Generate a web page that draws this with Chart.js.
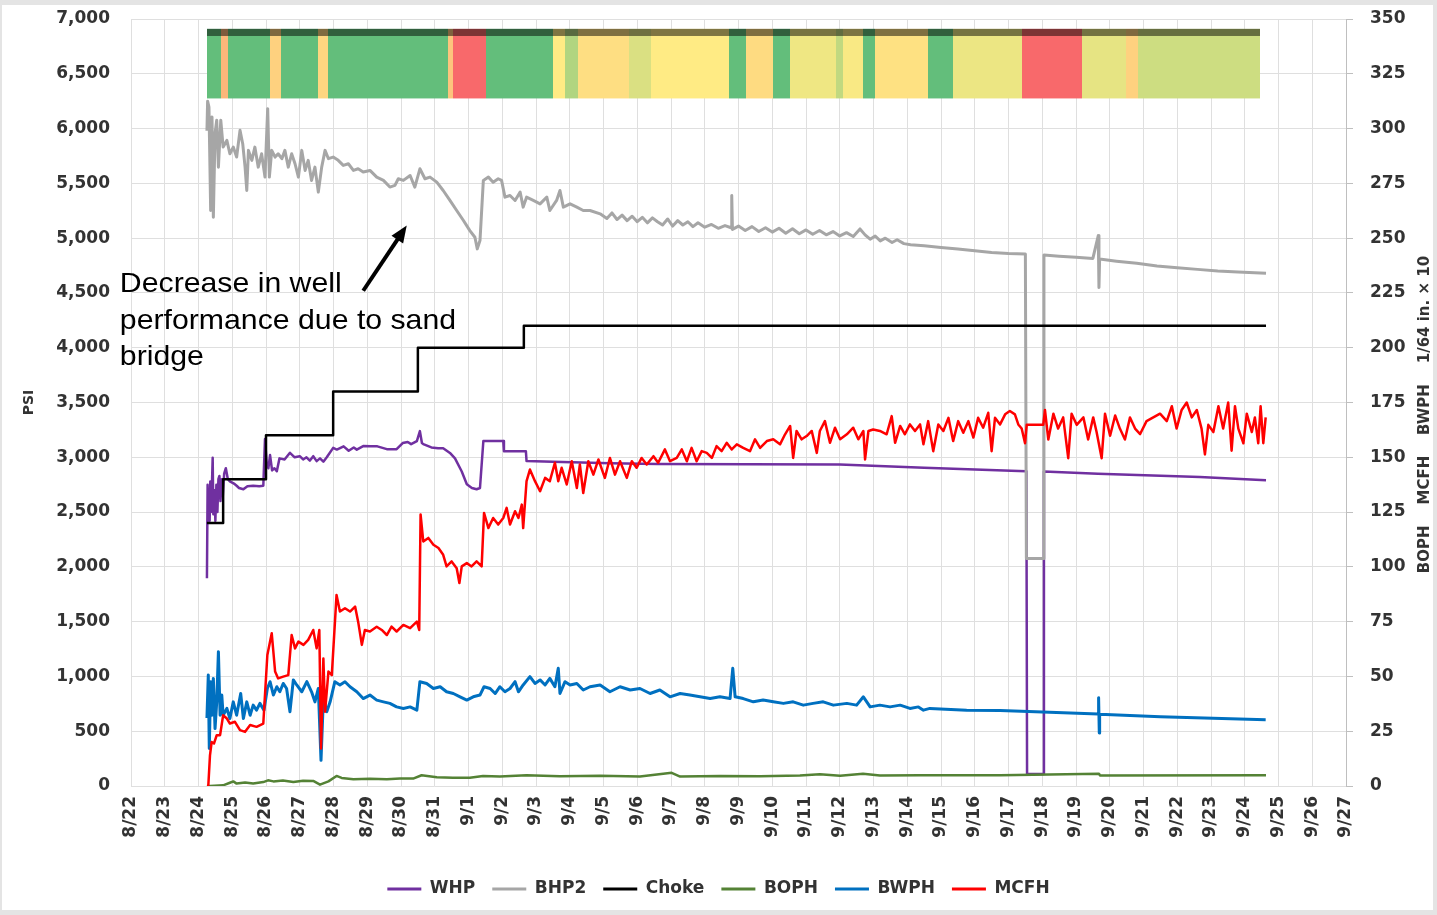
<!DOCTYPE html>
<html>
<head>
<meta charset="utf-8">
<script src="https://cdn.jsdelivr.net/npm/chart.js@4.4.1/dist/chart.umd.min.js"></script>
<style>
  html, body { margin: 0; padding: 0; background: #fff; }
  #wrap { width: 1437px; height: 915px; }
</style>
</head>
<body>
<div id="wrap"><canvas id="wellChart" width="1437" height="915"></canvas></div>
<script>
/* Well test: pressures (PSI, left axis) + rates / choke (right axis) with a status band on top. */

// x = days since 8/22 00:00
const dayLabels = ['8/22','8/23','8/24','8/25','8/26','8/27','8/28','8/29','8/30','8/31',
  '9/1','9/2','9/3','9/4','9/5','9/6','9/7','9/8','9/9','9/10','9/11','9/12','9/13','9/14',
  '9/15','9/16','9/17','9/18','9/19','9/20','9/21','9/22','9/23','9/24','9/25','9/26','9/27'];

// [day, PSI]
const whp = [[2.25,1897],[2.27,2750],[2.29,2450],[2.31,2700],[2.33,2420],[2.35,2780],[2.37,2500],[2.39,2650],
  [2.42,2995],[2.44,2480],[2.47,2700],[2.50,2420],[2.53,2750],[2.56,2500],[2.59,2800],[2.62,2830],[2.65,2600],
  [2.69,2800],[2.72,2650],[2.76,2850],[2.81,2900],[2.87,2800],[2.93,2780],[3.05,2760],[3.13,2740],[3.20,2720],
  [3.33,2708],[3.45,2736],[3.62,2740],[3.80,2736],[3.92,2740],[3.97,3166],[4.02,2950],[4.07,2900],[4.12,3020],
  [4.18,2880],[4.25,2900],[4.32,2873],[4.40,2990],[4.55,2980],[4.71,3041],[4.85,3000],[5.00,3010],[5.10,2980],
  [5.20,3000],[5.30,2970],[5.40,3010],[5.50,2965],[5.60,2990],[5.70,2960],[5.80,3000],[5.99,3086],[6.10,3070],
  [6.30,3100],[6.45,3060],[6.60,3090],[6.69,3070],[6.88,3102],[7.10,3100],[7.30,3100],[7.58,3074],[7.87,3074],
  [8.05,3130],[8.20,3140],[8.30,3120],[8.47,3148],[8.56,3239],[8.62,3130],[8.66,3120],[8.90,3090],[9.10,3083],
  [9.25,3083],[9.45,3040],[9.60,2990],[9.80,2870],[9.95,2754],[10.10,2720],[10.24,2708],[10.34,2720],[10.44,3148],
  [10.70,3148],[11.03,3148],[11.05,3056],[11.40,3056],[11.70,3056],[11.72,2965],[12.50,2960],[14.20,2945],
  [15.60,2938],[21.00,2935],[23.50,2905],[26.30,2875],[26.53,2872],[26.55,110],[27.03,110],[27.05,2870],
  [28.65,2850],[31.67,2820],[33.63,2790]];

const bhp2 = [[2.25,5980],[2.27,6250],[2.31,6197],[2.36,5252],[2.40,6106],[2.44,5191],[2.49,5956],[2.54,6076],
  [2.59,5648],[2.66,6076],[2.73,5831],[2.84,5892],[2.93,5770],[3.03,5831],[3.13,5740],[3.23,5984],[3.31,5862],
  [3.38,5648],[3.43,5435],[3.48,5801],[3.58,5710],[3.67,5831],[3.77,5648],[3.87,5770],[3.97,5557],[4.05,6182],
  [4.10,5557],[4.17,5801],[4.27,5740],[4.36,5770],[4.47,5725],[4.56,5801],[4.66,5648],[4.76,5770],[4.86,5679],
  [4.96,5557],[5.06,5801],[5.16,5618],[5.25,5710],[5.35,5527],[5.45,5648],[5.55,5420],[5.65,5648],[5.75,5801],
  [5.85,5725],[5.99,5740],[6.14,5710],[6.29,5664],[6.44,5679],[6.59,5618],[6.73,5633],[6.88,5603],[7.08,5618],
  [7.28,5557],[7.48,5527],[7.67,5466],[7.82,5481],[7.92,5542],[8.07,5527],[8.27,5572],[8.41,5466],[8.56,5633],
  [8.71,5542],[8.86,5557],[9.06,5511],[9.25,5435],[9.45,5344],[9.65,5252],[9.85,5161],[10.04,5069],[10.19,5008],
  [10.26,4902],[10.34,4978],[10.44,5527],[10.59,5557],[10.73,5511],[10.88,5542],[10.98,5527],[11.08,5374],
  [11.23,5389],[11.38,5344],[11.53,5420],[11.62,5283],[11.72,5374],[11.92,5344],[12.12,5313],[12.32,5374],
  [12.41,5252],[12.61,5344],[12.71,5435],[12.81,5283],[13.01,5313],[13.21,5283],[13.40,5252],[13.60,5252],
  [13.90,5222],[14.10,5180],[14.25,5230],[14.40,5170],[14.55,5210],[14.70,5160],[14.85,5200],[15.00,5150],
  [15.15,5190],[15.30,5140],[15.45,5185],[15.60,5150],[15.75,5120],[15.90,5175],[16.05,5110],[16.20,5160],
  [16.35,5120],[16.50,5150],[16.65,5105],[16.80,5140],[17.00,5100],[17.20,5125],[17.40,5090],[17.60,5115],
  [17.78,5095],[17.80,5389],[17.82,5080],[18.00,5110],[18.20,5070],[18.40,5105],[18.60,5060],[18.80,5095],
  [19.00,5055],[19.20,5090],[19.40,5045],[19.60,5085],[19.80,5040],[20.00,5075],[20.20,5035],[20.40,5070],
  [20.60,5030],[20.80,5060],[21.00,5020],[21.20,5050],[21.40,5015],[21.60,5084],[21.75,5030],[21.90,4990],
  [22.05,5020],[22.20,4975],[22.35,5000],[22.55,4960],[22.70,4985],[22.90,4950],[23.10,4940],[23.50,4930],
  [24.00,4915],[24.50,4900],[25.00,4885],[25.50,4870],[26.00,4860],[26.50,4856],[26.53,2077],[27.03,2077],
  [27.05,4847],[27.50,4835],[28.00,4825],[28.50,4815],[28.66,5023],[28.68,4550],[28.70,4810],[29.20,4790],
  [29.80,4770],[30.40,4745],[31.00,4730],[31.60,4715],[32.20,4700],[32.80,4690],[33.63,4679]];

// [day, right-axis value]
const choke = [[2.25,120],[2.73,140],[4.00,160],[5.99,180],[8.50,200],[11.64,210],[33.63,210]];

const boph = [[2.25,0],[2.34,0],[2.73,0.3],[2.93,1.5],[3.03,2.1],[3.13,1.1],[3.38,1.6],[3.62,1.1],[3.92,1.8],
  [4.06,2.6],[4.22,2.1],[4.50,2.5],[4.81,1.8],[5.10,2.4],[5.40,2.3],[5.60,0.6],[5.85,2.1],[6.09,4.6],[6.24,3.7],
  [6.59,3.1],[7.08,3.3],[7.58,3.1],[7.97,3.4],[8.36,3.4],[8.61,4.9],[9.06,4.0],[9.54,3.8],[10.04,3.8],[10.43,4.6],
  [10.93,4.3],[11.72,4.9],[12.71,4.4],[13.90,4.7],[15.08,4.3],[16.02,6.0],[16.27,4.3],[17.45,4.6],[18.64,4.4],
  [19.82,4.8],[20.41,5.4],[21.01,4.7],[21.69,5.6],[22.19,4.8],[23.38,4.9],[25.75,4.9],[28.68,5.6],[28.71,4.8],
  [33.63,4.9]];

const bwph = [[2.25,31],[2.29,50.6],[2.32,17.1],[2.36,47.6],[2.40,32.3],[2.44,49.1],[2.49,26.2],[2.54,38.4],
  [2.59,61.3],[2.64,32.3],[2.69,41.5],[2.73,32.3],[2.84,35.4],[2.93,30.8],[3.03,38.4],[3.13,32.3],[3.25,42.2],
  [3.33,30.8],[3.43,38.4],[3.53,32.3],[3.62,36.9],[3.72,34.6],[3.82,37.7],[3.94,34.6],[4.04,44.5],[4.12,47.6],
  [4.22,41.5],[4.32,45.3],[4.41,43.0],[4.51,46.8],[4.61,44.5],[4.71,33.9],[4.81,48.4],[4.91,46.1],[5.06,43.0],
  [5.21,47.6],[5.35,43.0],[5.45,38.4],[5.55,44.5],[5.63,11.7],[5.70,39.9],[5.80,33.9],[5.90,38.4],[6.04,47.6],
  [6.19,46.1],[6.34,47.6],[6.49,45.3],[6.69,43.0],[6.88,39.9],[7.08,41.5],[7.28,39.2],[7.48,38.4],[7.67,37.7],
  [7.87,36.1],[8.07,35.4],[8.27,36.1],[8.47,34.6],[8.56,47.6],[8.76,46.8],[8.96,44.5],[9.16,45.3],[9.35,43.0],
  [9.55,42.2],[9.75,40.7],[9.95,39.2],[10.14,40.7],[10.34,41.5],[10.46,45.3],[10.64,44.5],[10.79,42.2],
  [10.93,45.3],[11.08,43.0],[11.23,44.5],[11.38,47.6],[11.48,43.0],[11.62,46.1],[11.82,49.9],[11.97,46.8],
  [12.12,48.4],[12.27,46.1],[12.41,49.1],[12.56,45.3],[12.66,53.7],[12.71,42.2],[12.86,47.6],[13.01,46.1],
  [13.21,46.8],[13.40,43.8],[13.60,45.3],[13.90,46.1],[14.19,43.0],[14.49,45.3],[14.79,43.8],[15.08,44.5],
  [15.38,42.2],[15.67,43.8],[15.97,40.7],[16.27,42.2],[16.56,41.5],[16.86,40.7],[17.16,39.9],[17.45,40.7],
  [17.75,39.9],[17.83,53.7],[17.90,40.7],[18.14,39.9],[18.44,38.4],[18.73,39.2],[19.03,38.4],[19.33,37.7],
  [19.62,38.4],[19.92,36.9],[20.21,37.7],[20.51,38.4],[20.81,36.9],[21.21,37.7],[21.50,36.9],[21.70,40.7],
  [21.90,36.1],[22.19,36.9],[22.49,36.1],[22.79,36.9],[23.08,35.4],[23.33,36.1],[23.48,34.6],[23.67,35.4],
  [24.76,34.6],[25.75,34.4],[26.80,33.9],[28.66,32.8],[28.67,40.3],[28.69,24.2],[28.70,32.7],[30.50,31.6],
  [33.62,30.2]];

const mcfh = [[2.25,0],[2.29,0],[2.34,14.0],[2.39,20.1],[2.46,19.4],[2.54,23.2],[2.64,23.2],[2.73,32.3],
  [2.84,30.8],[2.93,28.5],[3.08,29.3],[3.23,25.5],[3.38,24.7],[3.53,27.8],[3.72,27.0],[3.92,28.5],[4.04,59.8],
  [4.17,69.7],[4.27,52.2],[4.36,49.1],[4.51,49.9],[4.66,50.6],[4.76,68.9],[4.86,62.8],[4.96,65.9],[5.11,64.4],
  [5.25,66.7],[5.40,71.2],[5.50,62.8],[5.58,71.2],[5.63,17.1],[5.70,58.2],[5.75,33.9],[5.85,52.2],[5.95,50.6],
  [6.09,87.2],[6.19,79.6],[6.34,81.1],[6.49,79.6],[6.64,81.9],[6.73,75.0],[6.84,64.4],[6.93,71.2],[7.08,70.5],
  [7.28,72.7],[7.43,71.2],[7.58,68.9],[7.72,72.7],[7.87,70.5],[8.07,73.5],[8.27,72.0],[8.47,75.0],[8.54,71.2],
  [8.58,123.9],[8.66,111.6],[8.81,113.2],[8.96,110.1],[9.11,108.6],[9.25,105.5],[9.35,100.2],[9.50,102.5],
  [9.65,99.4],[9.73,92.6],[9.80,100.2],[9.95,101.7],[10.09,100.2],[10.24,102.5],[10.39,100.2],[10.46,124.6],
  [10.59,117.7],[10.73,122.3],[10.88,119.3],[11.03,122.3],[11.13,126.9],[11.23,119.3],[11.38,125.4],
  [11.48,122.3],[11.58,128.4],[11.62,117.7],[11.72,139.1],[11.82,144.4],[11.97,139.1],[12.12,134.5],
  [12.27,140.6],[12.41,139.1],[12.56,147.5],[12.66,139.1],[12.76,145.2],[12.91,137.6],[13.06,148.2],
  [13.21,136.0],[13.30,146.7],[13.40,133.7],[13.55,148.2],[13.70,142.1],[13.85,149.0],[14.04,140.6],
  [14.19,149.7],[14.34,142.1],[14.49,148.2],[14.69,140.6],[14.84,148.2],[14.98,145.2],[15.13,149.7],
  [15.28,146.7],[15.48,150.5],[15.62,147.5],[15.82,153.6],[15.97,148.2],[16.17,149.7],[16.32,153.6],
  [16.47,148.2],[16.61,154.3],[16.76,148.2],[16.91,152.8],[17.06,152.0],[17.21,149.7],[17.35,155.1],
  [17.50,152.8],[17.65,156.6],[17.80,153.6],[17.95,155.9],[18.14,154.3],[18.34,152.8],[18.49,158.2],
  [18.64,154.3],[18.84,157.4],[19.03,158.2],[19.23,155.9],[19.38,160.5],[19.53,164.3],[19.62,149.7],
  [19.72,162.0],[19.87,158.2],[20.02,159.7],[20.17,162.0],[20.32,152.0],[20.41,162.0],[20.56,166.5],
  [20.71,156.6],[20.86,163.5],[21.01,158.2],[21.21,160.5],[21.40,163.5],[21.55,158.2],[21.70,162.0],
  [21.75,149.0],[21.85,162.0],[21.99,162.7],[22.19,162.0],[22.39,160.5],[22.54,168.8],[22.64,156.6],
  [22.79,164.3],[22.93,160.5],[23.08,165.0],[23.23,162.0],[23.38,165.0],[23.48,155.9],[23.62,166.5],
  [23.77,152.8],[23.92,165.0],[24.07,162.0],[24.22,168.0],[24.36,157.4],[24.51,166.5],[24.66,161.2],
  [24.81,166.5],[24.96,159.0],[25.10,168.0],[25.25,163.5],[25.40,170.3],[25.50,152.8],[25.60,168.0],
  [25.75,165.0],[25.90,169.6],[26.04,171.1],[26.19,169.6],[26.29,165.0],[26.39,163.1],[26.49,156.4],
  [26.54,164.8],[27.03,164.8],[27.08,171.6],[27.18,158.1],[27.33,169.9],[27.47,163.1],[27.62,168.2],
  [27.77,149.6],[27.87,169.9],[28.02,164.8],[28.22,168.2],[28.36,158.1],[28.51,168.2],[28.61,161.5],
  [28.76,149.6],[28.86,169.9],[29.01,159.8],[29.16,169.1],[29.30,163.1],[29.45,158.1],[29.60,168.2],
  [29.75,163.1],[29.90,160.6],[30.09,166.5],[30.29,168.2],[30.49,169.9],[30.69,166.5],[30.84,173.3],
  [30.98,163.1],[31.13,171.6],[31.28,175.0],[31.43,168.2],[31.58,171.6],[31.72,163.1],[31.82,151.3],
  [31.92,164.8],[32.07,161.5],[32.22,173.3],[32.36,163.1],[32.51,175.0],[32.61,153.0],[32.71,173.3],
  [32.81,163.1],[32.96,156.4],[33.06,169.9],[33.21,161.5],[33.30,168.2],[33.40,156.4],[33.47,173.3],
  [33.55,156.4],[33.62,168.2]];

// status band: segment edges (days) and score per segment (0 = red, 50 = yellow, 100 = green)
const bandEdges = [2.25,2.67,2.86,4.12,4.44,5.53,5.85,9.39,9.54,10.52,12.49,12.86,13.23,14.76,15.41,17.72,
  18.22,19.02,19.53,20.89,21.11,21.69,22.03,23.60,24.37,26.40,28.18,29.47,29.84,33.44];
const bandScore = [100,30,100,40,100,42,100,35,0,100,50,75,45,62,50,100,44,100,55,70,52,100,46,100,56,0,58,40,66];

const noteLines = ['Decrease in well', 'performance due to sand', 'bridge'];
const rightTitle = 'BOPH    MCFH    BWPH    1/64 in. \u00d7 10';

// band placement on the PSI scale, note anchors [day, PSI]
const BAND_TOP = 6910, BAND_CAP = 6845, BAND_BOTTOM = 6275;
const NOTE_AT = [-0.33, 4575];
const ARROW_FROM = [6.88, 4520], ARROW_TO = [8.17, 5115];

const TICK_FONT = { family: 'DejaVu Sans', size: 17, weight: 'bold' };
const TXT = '#333333', GRID = '#dfdfdf';

function scoreColor(s) {
  const red = [248,105,107], yel = [255,235,132], grn = [99,190,123];
  const [a, b, t] = s <= 50 ? [red, yel, s / 50] : [yel, grn, (s - 50) / 50];
  return 'rgb(' + a.map((c, i) => Math.round(c + (b[i] - c) * t)).join(',') + ')';
}

const framePlugin = {
  id: 'frame',
  beforeDraw(chart) {
    const { ctx, width, height } = chart;
    ctx.save();
    ctx.fillStyle = '#e4e4e4';
    ctx.fillRect(0, 0, width, height);
    ctx.fillStyle = '#ffffff';
    ctx.fillRect(2, 5, width - 6, height - 10);
    ctx.restore();
  }
};

const bandPlugin = {
  id: 'statusBand',
  beforeDatasetsDraw(chart) {
    const { ctx, scales: { x, y } } = chart;
    const top = y.getPixelForValue(BAND_TOP), bot = y.getPixelForValue(BAND_BOTTOM), cap = y.getPixelForValue(BAND_CAP);
    ctx.save();
    bandScore.forEach((s, i) => {
      const x0 = Math.round(x.getPixelForValue(bandEdges[i]));
      const x1 = Math.round(x.getPixelForValue(bandEdges[i + 1]));
      ctx.fillStyle = scoreColor(s);
      ctx.fillRect(x0, top, x1 - x0, bot - top);
    });
    const xa = Math.round(x.getPixelForValue(bandEdges[0]));
    const xb = Math.round(x.getPixelForValue(bandEdges[bandEdges.length - 1]));
    ctx.fillStyle = 'rgba(0,0,0,0.5)';
    ctx.fillRect(xa, top, xb - xa, cap - top);
    ctx.restore();
  }
};

const notesPlugin = {
  id: 'notes',
  afterDraw(chart) {
    const { ctx, chartArea, scales: { x, y, y1 } } = chart;
    ctx.save();
    ctx.fillStyle = '#000';
    ctx.textBaseline = 'middle';
    ctx.font = '28px "Liberation Sans", Arial, sans-serif';
    const tx = x.getPixelForValue(NOTE_AT[0]);
    noteLines.forEach((line, i) => {
      ctx.save();
      ctx.translate(tx, y.getPixelForValue(NOTE_AT[1]) + i * 36.5);
      ctx.scale(1.08, 1);
      ctx.fillText(line, 0, 0);
      ctx.restore();
    });

    // arrow
    const ax = x.getPixelForValue(ARROW_FROM[0]), ay = y.getPixelForValue(ARROW_FROM[1]);
    const bx = x.getPixelForValue(ARROW_TO[0]), by = y.getPixelForValue(ARROW_TO[1]);
    const ang = Math.atan2(by - ay, bx - ax), c = Math.cos(ang), s = Math.sin(ang);
    ctx.strokeStyle = '#000';
    ctx.lineWidth = 4;
    ctx.beginPath();
    ctx.moveTo(ax, ay);
    ctx.lineTo(bx - 12 * c, by - 12 * s);
    ctx.stroke();
    ctx.beginPath();
    ctx.moveTo(bx, by);
    ctx.lineTo(bx - 17 * c + 7 * s, by - 17 * s - 7 * c);
    ctx.lineTo(bx - 17 * c - 7 * s, by - 17 * s + 7 * c);
    ctx.closePath();
    ctx.fill();

    // right axis title reads bottom-to-top
    ctx.fillStyle = TXT;
    ctx.font = 'bold 15px "DejaVu Sans"';
    ctx.textAlign = 'center';
    ctx.translate(y1.right - 12, (chartArea.top + chartArea.bottom) / 2 + 12);
    ctx.rotate(-Math.PI / 2);
    ctx.fillText(rightTitle, 0, 0);
    ctx.restore();
  }
};

const line = (label, rows, color, width, axis, order, extra) => Object.assign({
  label, order, yAxisID: axis,
  data: rows.map(([d, v]) => ({ x: d, y: v })),
  borderColor: color, backgroundColor: color, borderWidth: width,
  pointRadius: 0, tension: 0, fill: false, borderJoinStyle: 'round'
}, extra || {});

// fixed axis sizes so the plot area sits where the reference has it
const fixWidth = w => s => { s.width = w; s.paddingTop = 0; s.paddingBottom = 0; };

new Chart(document.getElementById('wellChart'), {
  type: 'line',
  data: { datasets: [
    line('WHP',   whp,   '#7030a0', 2.5, 'y',  6),
    line('BHP2',  bhp2,  '#a6a6a6', 3,   'y',  5),
    line('Choke', choke, '#000000', 2.5, 'y1', 4, { stepped: true }),
    line('BOPH',  boph,  '#548235', 2.5, 'y1', 3),
    line('BWPH',  bwph,  '#0070c0', 3,   'y1', 2),
    line('MCFH',  mcfh,  '#ff0000', 2.5, 'y1', 1)
  ] },
  options: {
    responsive: false,
    animation: false,
    layout: { padding: { top: 19, right: 0, bottom: 7.5, left: 0 } },
    plugins: {
      tooltip: { enabled: false },
      legend: {
        position: 'bottom',
        labels: {
          font: TICK_FONT, color: TXT, boxWidth: 34, boxHeight: 3, padding: 17,
          sort: (a, b) => a.datasetIndex - b.datasetIndex,
          generateLabels: chart => Chart.defaults.plugins.legend.labels.generateLabels(chart)
            .map(it => Object.assign(it, { lineWidth: 0, fillStyle: it.strokeStyle }))
        }
      }
    },
    scales: {
      x: {
        type: 'linear', min: 0, max: 36,
        afterFit: s => { s.height = 77.5; },
        grid: { color: GRID, drawTicks: false },
        border: { display: false },
        ticks: { stepSize: 1, autoSkip: false, minRotation: 90, maxRotation: 90, padding: 10,
          font: TICK_FONT, color: TXT, callback: v => dayLabels[v] }
      },
      y: {
        position: 'left', min: 0, max: 7000,
        afterFit: fixWidth(131),
        grid: { color: GRID, drawTicks: false },
        border: { display: false },
        ticks: { stepSize: 500, padding: 21, font: TICK_FONT, color: TXT,
          callback: v => v.toLocaleString('en-US') },
        title: { display: true, text: 'PSI', color: TXT, padding: { top: 21, bottom: 0 },
          font: { family: 'DejaVu Sans', size: 14, weight: 'bold' } }
      },
      y1: {
        position: 'right', min: 0, max: 350,
        afterFit: fixWidth(91),
        grid: { drawOnChartArea: false, drawTicks: true, tickLength: 7, color: '#bfbfbf' },
        border: { display: true, color: '#bfbfbf' },
        ticks: { stepSize: 25, padding: 17, font: TICK_FONT, color: TXT }
      }
    }
  },
  plugins: [framePlugin, bandPlugin, notesPlugin]
});
</script>
</body>
</html>
